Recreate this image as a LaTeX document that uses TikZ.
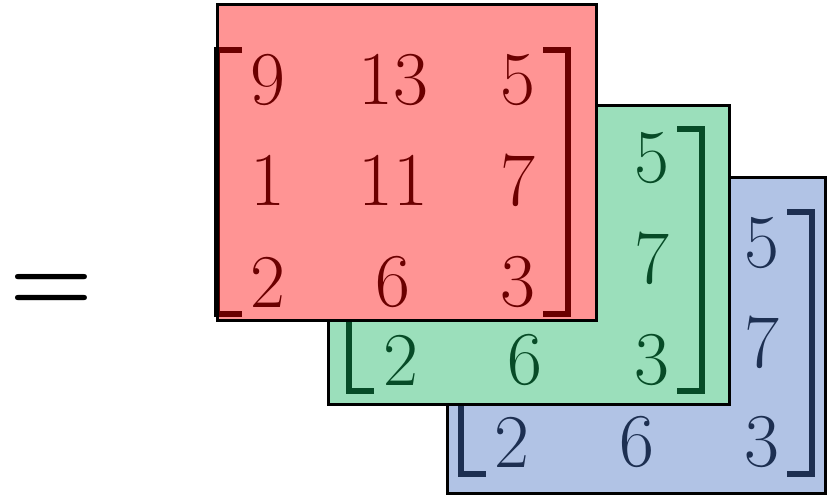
\documentclass[tikz,border=0pt]{standalone}
\definecolor{redc}{RGB}{255,0,0}
\definecolor{greenc}{RGB}{17,181,93}
\definecolor{bluec}{RGB}{71,114,195}
\begin{document}
\begin{tikzpicture}[x=1pt,y=-1pt,
  digit/.style={font=\fontsize{76}{80}\selectfont, inner sep=0pt, text=black},
  brk/.style={line width=5.5pt, line cap=butt, line join=miter, draw=black},
  frame/.style={line width=3pt, draw=black},
  veil/.style={fill opacity=0.42}]
\useasboundingbox (0,0) rectangle (833,497);

% equals sign
\node[font=\fontsize{96}{100}\bfseries\selectfont, inner sep=0pt] (eq) at (51.5,293) {=};

% ---------- blue layer (back) ----------
\fill[white] (447.5,177.5) rectangle (825.5,493.5);
\begin{scope}[shift={(461,212)}]
  \node[digit] (b13) at (301,31) {5};
  \node[digit] (b23) at (301,130) {7};
  \node[digit] (b31) at (51,230) {2};
  \node[digit] (b32) at (176,230) {6};
  \node[digit] (b33) at (301,230) {3};
  \draw[brk] (25,0) -- (0,0) -- (0,262) -- (25,262);
  \draw[brk] (326,0) -- (351,0) -- (351,262) -- (326,262);
\end{scope}
\fill[bluec, veil] (447.5,177.5) rectangle (825.5,493.5);
\draw[frame] (447.5,177.5) rectangle (825.5,493.5);

% ---------- green layer (middle) ----------
\fill[white] (328.5,105.5) rectangle (729.5,404);
\begin{scope}[shift={(349,129)}]
  \node[digit] (g13) at (303,29) {5};
  \node[digit] (g23) at (303,129) {7};
  \node[digit] (g31) at (52,231) {2};
  \node[digit] (g32) at (176,231) {6};
  \node[digit] (g33) at (303,231) {3};
  \draw[brk] (25,0) -- (0,0) -- (0,262) -- (25,262);
  \draw[brk] (328,0) -- (353,0) -- (353,262) -- (328,262);
\end{scope}
\fill[greenc, veil] (328.5,105.5) rectangle (729.5,404);
\draw[frame] (328.5,105.5) rectangle (729.5,404);

% ---------- red layer (front) ----------
\fill[white] (217.5,4.5) rectangle (596,320.5);
\begin{scope}[shift={(217,50)}]
  \node[digit] (r11) at (51,30) {9};
  \node[digit] (r12) at (176,30) {13};
  \node[digit] (r13) at (301,30) {5};
  \node[digit] (r21) at (51,130) {1};
  \node[digit] (r22) at (176,130) {11};
  \node[digit] (r23) at (301,130) {7};
  \node[digit] (r31) at (51,232) {2};
  \node[digit] (r32) at (176,232) {6};
  \node[digit] (r33) at (301,232) {3};
  \draw[brk] (25,0) -- (0,0) -- (0,264) -- (25,264);
  \draw[brk] (326,0) -- (351,0) -- (351,264) -- (326,264);
\end{scope}
\fill[redc, veil] (217.5,4.5) rectangle (596,320.5);
\draw[frame] (217.5,4.5) rectangle (596,320.5);
\end{tikzpicture}
\end{document}
